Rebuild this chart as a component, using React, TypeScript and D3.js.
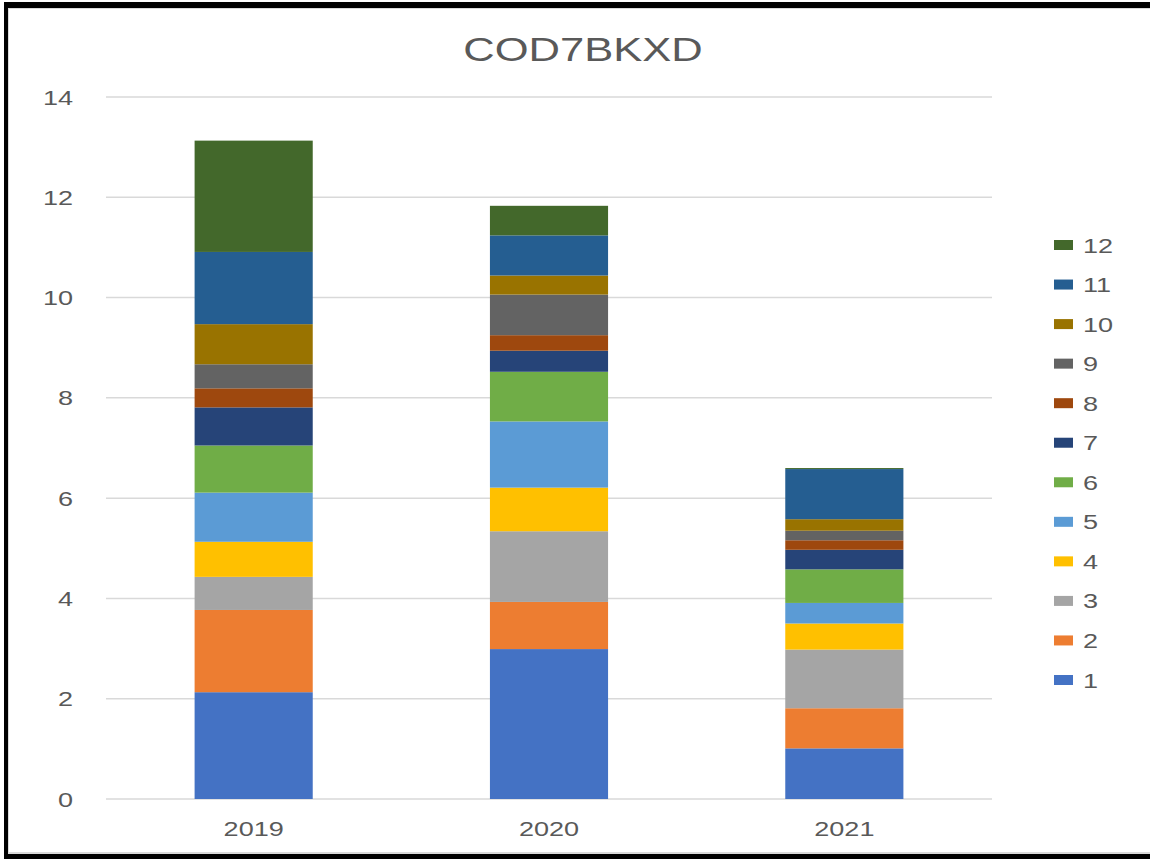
import React from "react";
import * as d3 from "d3";

const title = "COD7BKXD";
const years = ["2019", "2020", "2021"];
const seriesNames = ["1", "2", "3", "4", "5", "6", "7", "8", "9", "10", "11", "12"];
const colors = ["#4472C4", "#ED7D31", "#A5A5A5", "#FFC000", "#5B9BD5", "#70AD47", "#264478", "#9E480E", "#636363", "#997300", "#255E91", "#43682B"];
// values per series, indexed by year (2019, 2020, 2021)
const s1 = [2.13, 2.99, 1.01];
const s2 = [1.64, 0.94, 0.8];
const s3 = [0.66, 1.41, 1.17];
const s4 = [0.7, 0.87, 0.52];
const s5 = [0.98, 1.32, 0.41];
const s6 = [0.94, 0.99, 0.67];
const s7 = [0.76, 0.42, 0.39];
const s8 = [0.38, 0.31, 0.19];
const s9 = [0.48, 0.81, 0.19];
const s10 = [0.8, 0.38, 0.23];
const s11 = [1.44, 0.8, 1.0];
const s12 = [2.22, 0.59, 0.02];
const yTicks = [0, 2, 4, 6, 8, 10, 12, 14];

const seriesValues = [s1, s2, s3, s4, s5, s6, s7, s8, s9, s10, s11, s12];

const W = 1150;
const H = 859;
const FONT = "'Liberation Sans', Arial, sans-serif";
const TXT = "#595959";
const SX = 1.32;

export default function App() {
  const x = d3.scaleBand<string>().domain(years).range([106, 992]).paddingInner(0.6).paddingOuter(0.3);
  const y = d3.scaleLinear().domain([0, 14]).range([799, 97]);

  const table = years.map((yr, i) => {
    const row: any = { year: yr };
    seriesNames.forEach((s, k) => (row[s] = seriesValues[k][i]));
    return row;
  });
  const stacked = d3.stack<any>().keys(seriesNames)(table);

  const legendY = d3.scalePoint<string>().domain([...seriesNames].reverse()).range([245, 680]);

  return (
    <div style={{ position: "absolute", left: 0, top: 0, width: W, height: H, background: "#fff" }}>
      <svg width={W} height={H} style={{ display: "block" }}>
        <rect x={0} y={0} width={W} height={H} fill="#fff" />
        {/* frame */}
        <rect x={8} y={8} width={W + 20} height={H - 14} fill="none" stroke="#d9d9d9" strokeWidth={2} />
        <line x1={6} x2={6} y1={2} y2={H} stroke="#000" strokeWidth={4} />
        <line x1={4} x2={W} y1={5} y2={5} stroke="#000" strokeWidth={6} />
        <line x1={4} x2={W} y1={856.5} y2={856.5} stroke="#000" strokeWidth={5} />

        {/* title */}
        <text
          transform={`translate(583,61) scale(${SX},1)`}
          textAnchor="middle"
          fontFamily={FONT}
          fontSize={33}
          fill={TXT}
        >
          {title}
        </text>

        {/* gridlines and y labels */}
        {yTicks.map((t) => (
          <g key={t}>
            <line x1={106} x2={992} y1={y(t)} y2={y(t)} stroke="#d9d9d9" strokeWidth={1.5} />
            <text
              transform={`translate(73,${y(t) + 7.5}) scale(${SX},1)`}
              textAnchor="end"
              fontFamily={FONT}
              fontSize={20.5}
              fill={TXT}
            >
              {t}
            </text>
          </g>
        ))}

        {/* bars */}
        {stacked.map((layer, k) => (
          <g key={layer.key} fill={colors[k]}>
            {layer.map((d, i) => (
              <rect
                key={i}
                x={x(years[i])}
                width={x.bandwidth()}
                y={y(d[1])}
                height={Math.max(0, y(d[0]) - y(d[1]))}
              />
            ))}
          </g>
        ))}

        {/* x labels */}
        {years.map((yr) => (
          <text
            key={yr}
            transform={`translate(${(x(yr) as number) + x.bandwidth() / 2},836) scale(${SX},1)`}
            textAnchor="middle"
            fontFamily={FONT}
            fontSize={20.5}
            fill={TXT}
          >
            {yr}
          </text>
        ))}

        {/* legend */}
        {seriesNames.map((s, k) => {
          const cy = legendY(s) as number;
          return (
            <g key={s}>
              <rect x={1054} y={cy - 5} width={19} height={10} fill={colors[k]} />
              <text
                transform={`translate(1083,${cy + 7.5}) scale(${SX},1)`}
                fontFamily={FONT}
                fontSize={20.5}
                fill={TXT}
              >
                {s}
              </text>
            </g>
          );
        })}
      </svg>
    </div>
  );
}
